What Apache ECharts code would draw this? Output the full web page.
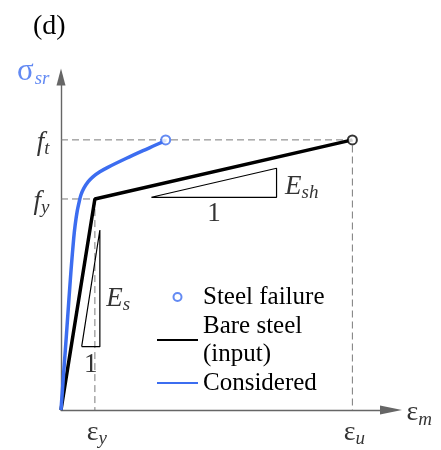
<!DOCTYPE html>
<html><head><meta charset="utf-8">
<script src="https://cdn.jsdelivr.net/npm/echarts@6/dist/echarts.min.js"></script>
<style>html,body{margin:0;padding:0;background:#fff}#c{width:441px;height:450px}</style>
</head><body><div id="c"></div>
<script>
// ---- data (normalised: strain / eps_y, stress / f_y) ----
const strainTickValues = [1, 8.6];          // eps_y, eps_u
const strainTickNames  = ['y', 'u'];
const stressTickValues = [1, 1.28];         // f_y, f_t
const stressTickNames  = ['y', 't'];
const bareSteelX = [0, 1, 8.6];
const bareSteelY = [0, 1, 1.28];
const consideredX = [0, 0.085, 0.156, 0.226, 0.297, 0.376, 0.418, 0.476, 0.538, 0.588, 0.676, 0.803, 0.950, 1.147, 1.382, 1.932, 2.421, 2.912, 3.09];
const consideredY = [0, 0.190, 0.347, 0.506, 0.664, 0.815, 0.877, 0.940, 0.987, 1.019, 1.051, 1.082, 1.106, 1.129, 1.150, 1.193, 1.229, 1.264, 1.28];
const failurePoint = [3.09, 1.28];
const esTriangleX  = [0.61, 1.147, 1.147, 0.61];
const esTriangleY  = [0.30, 0.30, 0.853, 0.30];
const eshTriangleX = [2.668, 6.362, 6.362, 2.668];
const eshTriangleY = [1.008, 1.008, 1.1455, 1.008];
const xAxisMax = 9.74, yAxisMax = 1.578;
const legendNames = ['Steel failure', 'Bare steel\n(input)', 'Considered'];

// ---- build ----
const zip = (a, b) => a.map((v, i) => [v, b[i]]);
const SERIF = 'Liberation Serif';
const BLUE = '#3c6df0';
const GUIDE = '#7a7a7a';
const rich = {
  m:  {fontFamily: SERIF, fontSize: 28, color: '#000'},
  mi: {fontFamily: SERIF, fontSize: 27, fontStyle: 'italic', color: '#000'},
  s:  {fontFamily: SERIF, fontSize: 19, fontStyle: 'italic', color: '#000', padding: [13, 0, 0, 0]},
  bm: {fontFamily: SERIF, fontSize: 31, color: BLUE},
  bs: {fontFamily: SERIF, fontSize: 19, fontStyle: 'italic', color: BLUE, padding: [13, 0, 0, 1]},
  one:{fontFamily: SERIF, fontSize: 27, color: '#000'}
};
const lbl = (value, text, position, distance, offset) => ({
  value: value,
  label: {show: true, formatter: text, position: position, distance: distance, offset: offset || [0, 0], rich: rich}
});
const labelData = [
  lbl([0, stressTickValues[0]], '{mi|f}{s|' + stressTickNames[0] + '}', 'left', 10, [-1, 3]),
  lbl([0, stressTickValues[1]], '{mi|f}{s|' + stressTickNames[1] + '}', 'left', 10, [-1, 3]),
  lbl([strainTickValues[0], 0], '{m|ε}{s|' + strainTickNames[0] + '}', 'bottom', 6, [2, 0]),
  lbl([strainTickValues[1], 0], '{m|ε}{s|' + strainTickNames[1] + '}', 'bottom', 6, [2, 0]),
  lbl([xAxisMax, 0], '{m|ε}{s|m}', 'right', 15, [0, 3]),
  lbl([0, yAxisMax], '{bm|σ}{bs|sr}', 'left', 10, [-1, -5]),
  lbl([esTriangleX[1], (esTriangleY[0] + esTriangleY[2]) / 2 - 0.04], '{mi|E}{s|s}', 'right', 6, [0, 2]),
  lbl([(esTriangleX[0] + esTriangleX[1]) / 2, esTriangleY[0]], '{one|1}', 'bottom', 4, [0, 0]),
  lbl([eshTriangleX[1], (eshTriangleY[0] + eshTriangleY[2]) / 2], '{mi|E}{s|sh}', 'right', 8, [0, 4]),
  lbl([(eshTriangleX[0] + eshTriangleX[1]) / 2, eshTriangleY[0]], '{one|1}', 'bottom', 3, [0, 0])
];

const chart = echarts.init(document.getElementById('c'), null, {renderer: 'canvas'});
const axisCommon = {
  type: 'value', min: 0,
  splitLine: {show: false}, axisTick: {show: false}, axisLabel: {show: false},
  axisLine: {show: true, lineStyle: {color: '#666', width: 1.4}, symbol: ['none', 'triangle']}
};
chart.setOption({
  animation: false,
  title: {text: '(d)', left: 28, top: 8, textStyle: {fontFamily: SERIF, fontSize: 28, fontWeight: 'normal', color: '#000'}},
  grid: {left: 61, right: 50, top: 77, bottom: 40},
  xAxis: Object.assign({}, axisCommon, {max: xAxisMax, axisLine: Object.assign({}, axisCommon.axisLine, {symbolSize: [9, 22]})}),
  yAxis: Object.assign({}, axisCommon, {max: yAxisMax, axisLine: Object.assign({}, axisCommon.axisLine, {symbolSize: [9, 17]})}),
  legend: {
    orient: 'vertical', left: 156, top: 283, padding: 0, itemGap: 1,
    itemWidth: 41, itemHeight: 8,
    textStyle: {fontFamily: SERIF, fontSize: 25, lineHeight: 28, color: '#000'},
    data: [
      {name: legendNames[0], icon: 'emptyCircle'},
      {name: legendNames[1], itemStyle: {opacity: 0}},
      {name: legendNames[2], itemStyle: {opacity: 0}}
    ]
  },
  series: [
    {type: 'line', name: 'guideT', silent: true, symbol: 'none', z: 1,
     data: [[0, stressTickValues[1]], [strainTickValues[1], stressTickValues[1]], [strainTickValues[1], 0]],
     lineStyle: {color: GUIDE, width: 1, type: [7, 4]}},
    {type: 'line', name: 'guideY', silent: true, symbol: 'none', z: 1,
     data: [[0, stressTickValues[0]], [strainTickValues[0], stressTickValues[0]], [strainTickValues[0], 0]],
     lineStyle: {color: GUIDE, width: 1, type: [7, 4]}},
    {type: 'line', name: 'triEs', silent: true, symbol: 'none', z: 2,
     data: zip(esTriangleX, esTriangleY), lineStyle: {color: '#000', width: 1.2}},
    {type: 'line', name: 'triEsh', silent: true, symbol: 'none', z: 2,
     data: zip(eshTriangleX, eshTriangleY), lineStyle: {color: '#000', width: 1.2}},
    {type: 'line', name: legendNames[1], symbol: 'none', z: 3,
     data: zip(bareSteelX, bareSteelY), lineStyle: {color: '#000', width: 3.5}, itemStyle: {color: '#000'}},
    {type: 'line', name: legendNames[2], symbol: 'none', smooth: 0.3, z: 4,
     data: zip(consideredX, consideredY), lineStyle: {color: BLUE, width: 3.5}, itemStyle: {color: BLUE}},
    {type: 'scatter', name: 'ultimate', symbol: 'emptyCircle', symbolSize: 9, z: 5,
     data: [[bareSteelX[2], bareSteelY[2]]], itemStyle: {color: '#000', borderWidth: 2.5}},
    {type: 'scatter', name: legendNames[0], symbol: 'emptyCircle', symbolSize: 9, z: 6,
     data: [failurePoint], itemStyle: {color: BLUE, borderWidth: 2.5}},
    {type: 'scatter', name: 'labels', silent: true, symbolSize: 1, z: 7,
     itemStyle: {color: 'rgba(0,0,0,0)'}, data: labelData}
  ]
});
</script></body></html>
